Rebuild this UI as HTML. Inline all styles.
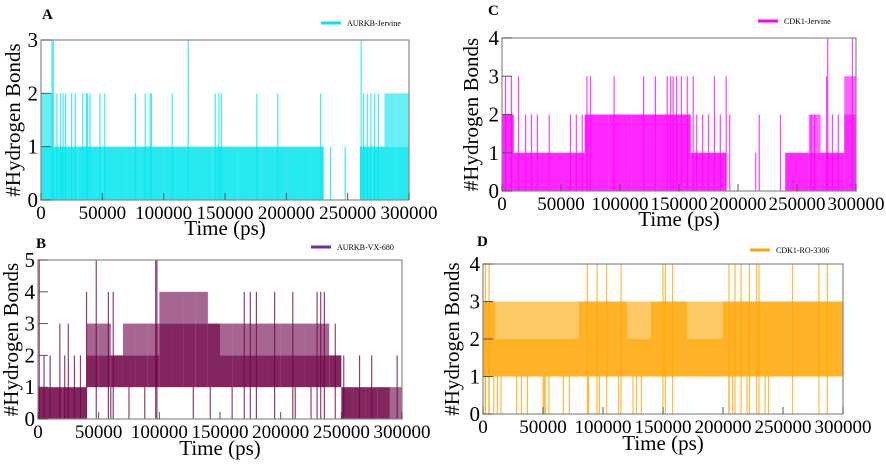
<!DOCTYPE html>
<html><head><meta charset="utf-8"><style>
body{margin:0;background:#fff;width:886px;height:462px;overflow:hidden}
svg text{font-family:"Liberation Serif","Times New Roman",serif !important}
</style></head><body>
<svg id="fig" width="886" height="462" viewBox="0 0 886 462" xmlns="http://www.w3.org/2000/svg"></svg>
<script>
const xTicks=[0,50000,100000,150000,200000,250000,300000];
const binWidth=10000;
// Panel A: AURKB-Jervine
const aMin=[0,0,0,0,0,0,0,0,0,0,0,0,0,0,0,0,0,0,0,0,0,0,0,0,0,0,0,0,0,0];
const aCore=[1,1,1,1,1,1,1,1,1,1,1,1,1,1,1,1,1,1,1,1,1,1,1,0,0,0,1,1,1,1];
const aPeak=[2,1,1,1,1,1,1,1,1,1,1,1,1,1,1,1,1,1,1,1,1,1,1,0,0,0,1,1,2,2];
const aSpikes=[[9000,0,3],[10000,0,3],[120000,0,3],[261000,0,3],[13000,0,2],[16000,0,2],[18000,0,2],[20000,0,2],[25000,0,2],[28000,0,2],[34000,0,2],[37000,0,2],[38000,0,2],[40000,0,2],[48000,0,2],[52000,0,2],[77000,0,2],[85000,0,2],[89000,0,2],[90000,0,2],[107000,0,2],[142000,0,2],[145000,0,2],[147000,0,2],[176000,0,2],[193000,0,2],[228000,0,2],[230000,0,1],[236000,0,1],[248000,0,1],[263000,0,2],[266000,0,2],[269000,0,2],[272000,0,2],[275000,0,2]];
// Panel B: AURKB-VX-680
const bMin=[0,0,0,0,1,1,1,1,1,1,1,1,1,1,1,1,1,1,1,1,1,1,1,1,1,0,0,0,0,0];
const bCore=[1,1,1,1,2,2,2,2,2,2,3,3,3,3,3,2,2,2,2,2,2,2,2,2,2,1,1,1,1,0];
const bPeak=[1,1,1,1,3,3,2,3,3,3,4,4,4,4,3,3,3,3,3,3,3,3,3,3,2,1,1,1,1,1];
const bSpikes=[[1000,0,5],[48000,0,5],[97000,0,5],[98000,0,5],[40000,0,4],[58000,0,4],[62000,0,4],[170000,0,4],[175000,0,4],[180000,0,4],[195000,0,4],[210000,0,4],[230000,0,4],[233000,0,4],[236000,0,4],[296000,0,2],[5000,0,2],[10000,0,2],[18000,0,3],[22000,0,2],[25000,0,3],[30000,0,2],[35000,0,2],[245000,0,3],[252000,0,2],[265000,0,2],[275000,0,2],[60000,0,1],[75000,0,1],[88000,0,1],[128000,0,1],[142000,0,1],[160000,0,1],[212000,0,1],[225000,0,1]];
// Panel C: CDK1-Jervine
const cMin=[0,0,0,0,0,0,0,0,0,0,0,0,0,0,0,0,0,0,0,0,0,0,0,0,0,0,0,0,0,0];
const cCore=[2,1,1,1,1,1,1,2,2,2,2,2,2,2,2,2,1,1,1,0,0,0,0,0,1,1,1,1,1,2];
const cPeak=[2,1,1,1,1,1,1,2,2,2,2,2,2,2,2,2,1,1,1,0,0,0,0,0,1,1,2,1,1,3];
const cSpikes=[[276000,0,4],[297000,0,4],[215000,0,1],[218000,0,2],[3000,0,3],[8000,0,3],[14000,0,3],[72000,0,3],[75000,0,3],[95000,0,3],[120000,0,3],[130000,0,3],[140000,0,3],[143000,0,3],[145000,0,3],[148000,0,3],[152000,0,3],[157000,0,3],[162000,0,3],[180000,0,3],[190000,0,3],[275000,0,3],[20000,0,2],[25000,0,2],[30000,0,2],[40000,0,2],[58000,0,2],[63000,0,2],[68000,0,2],[165000,0,2],[170000,0,2],[175000,0,2],[185000,0,2],[193000,0,2],[236000,0,2],[262000,0,2],[265000,0,2],[280000,0,2],[285000,0,2]];
// Panel D: CDK1-RO-3306
const dMin=[1,1,1,1,1,1,1,1,1,1,1,1,1,1,1,1,1,1,1,1,1,1,1,1,1,1,1,1,1,1];
const dCore=[3,2,2,2,2,2,2,2,3,3,3,3,2,2,3,3,3,2,2,2,3,3,3,3,3,3,3,3,3,3];
const dPeak=[3,3,3,3,3,3,3,3,3,3,3,3,3,3,3,3,3,3,3,3,3,3,3,3,3,3,3,3,3,3];
const dSpikes=[[2000,0,4],[5000,0,4],[87000,0,4],[95000,0,4],[103000,0,4],[115000,0,4],[150000,0,4],[152000,0,4],[158000,0,4],[205000,0,4],[210000,0,4],[215000,0,4],[222000,0,4],[228000,0,4],[230000,0,4],[258000,0,4],[280000,0,4],[287000,0,4],
[2000,0,1],[5000,0,1],[9000,0,1],[12000,0,1],[15000,0,1],[28000,0,1],[32000,0,1],[37000,0,1],[50000,0,1],[51000,0,1],[52000,0,1],[55000,0,1],[67000,0,1],[72000,0,1],[88000,0,1],[97000,0,1],[113000,0,1],[125000,0,1],[128000,0,1],[132000,0,1],[205000,0,1],[208000,0,1],[220000,0,1],[235000,0,1],[238000,0,1]];

const panels=[
 {id:'a',letter:'A',legend:'AURKB-Jervine',color:'#00e5ee',x0:41,x1:409,y0:40,y1:200,ymax:3,min:aMin,core:aCore,peak:aPeak,spikes:aSpikes,lx:321,ly:23,yl:15,tx:225,ty:235},
 {id:'b',letter:'B',legend:'AURKB-VX-680',color:'#6d0044',lcolor:'#7030a0',x0:38,x1:402,y0:260,y1:419,ymax:5,min:bMin,core:bCore,peak:bPeak,spikes:bSpikes,lx:311,ly:247,yl:13,tx:220,ty:455},
 {id:'c',letter:'C',legend:'CDK1-Jervine',color:'#ff00ff',x0:502,x1:856,y0:38,y1:191,ymax:4,min:cMin,core:cCore,peak:cPeak,spikes:cSpikes,lx:758,ly:21,yl:473,tx:679,ty:226},
 {id:'d',letter:'D',legend:'CDK1-RO-3306',color:'#ffa500',x0:483,x1:843,y0:264,y1:414,ymax:4,min:dMin,core:dCore,peak:dPeak,spikes:dSpikes,lx:750,ly:250,yl:454,tx:663,ty:450}
];
const letterPos={a:[42,19],b:[36,248],c:[488,15],d:[477,246]};
const NS='http://www.w3.org/2000/svg';
const svg=document.getElementById('fig');
function mk(tag,attrs,parent){const e=document.createElementNS(NS,tag);for(const k in attrs)e.setAttribute(k,attrs[k]);(parent||svg).appendChild(e);return e;}
panels.forEach(p=>{
 const g=mk('g',{});
 
 
 const xs=t=>p.x0+(t/300000)*(p.x1-p.x0);
 const ys=v=>p.y1-(v/p.ymax)*(p.y1-p.y0);
 const sg=mk('g',{},g);
 
 
 for(let i=0;i<p.core.length;i++){
  const xa=xs(i*binWidth),xb=xs((i+1)*binWidth);
  if(p.peak[i]>p.core[i]){const r=mk('rect',{x:xa,y:ys(p.peak[i]),width:xb-xa,height:ys(p.core[i])-ys(p.peak[i]),fill:p.color,opacity:0.6},sg);
   
   }
  if(p.core[i]>p.min[i]){const r=mk('rect',{x:xa,y:ys(p.core[i]),width:xb-xa,height:ys(p.min[i])-ys(p.core[i]),fill:p.color,opacity:0.85},sg);
   
   }
 }
 p.spikes.forEach(s=>{const l=mk('line',{x1:xs(s[0]),x2:xs(s[0]),y1:ys(s[1]),y2:ys(s[2]),stroke:p.color,'stroke-width':1.2,opacity:0.75},sg);
  
  });
 const fr=mk('rect',{x:p.x0,y:p.y0,width:p.x1-p.x0,height:p.y1-p.y0,fill:'none',stroke:'#888','stroke-width':1.2},g);
 
 
 xTicks.forEach(t=>{
  mk('line',{x1:xs(t),x2:xs(t),y1:p.y1,y2:p.y1-7,stroke:'#555'},g);
  const tx=mk('text',{x:xs(t),y:p.y1+19,'text-anchor':'middle','font-size':19},g);
  tx.textContent=t;
  
  
 });
 for(let v=0;v<=p.ymax;v++){
  mk('line',{x1:p.x0,x2:p.x0+10,y1:ys(v),y2:ys(v),stroke:'#555'},g);
  const ty=mk('text',{x:p.x0-3,y:ys(v)+7,'text-anchor':'end','font-size':21},g);
  ty.textContent=v;
  
  
 }
 const yc=(p.y0+p.y1)/2;
 const yt=mk('text',{x:p.yl,y:yc,'text-anchor':'middle','font-size':21,transform:`rotate(-90 ${p.yl} ${yc})`,'dominant-baseline':'middle'},g);
 yt.textContent='#Hydrogen Bonds';
 
 
 const xt=mk('text',{x:p.tx,y:p.ty,'text-anchor':'middle','font-size':21},g);
 xt.textContent='Time (ps)';
 
 
 const lp=letterPos[p.id];
 const lt=mk('text',{x:lp[0],y:lp[1],'font-size':15,'font-weight':'bold'},g);
 lt.textContent=p.letter;
 
 
 const lg=mk('g',{},g);
 
 
 mk('line',{x1:p.lx,x2:p.lx+20,y1:p.ly,y2:p.ly,stroke:p.lcolor||p.color,'stroke-width':3},lg);
 const ltx=mk('text',{x:p.lx+26,y:p.ly+3,'font-size':8},lg);
 ltx.textContent=p.legend;
});
</script>
</body></html>
